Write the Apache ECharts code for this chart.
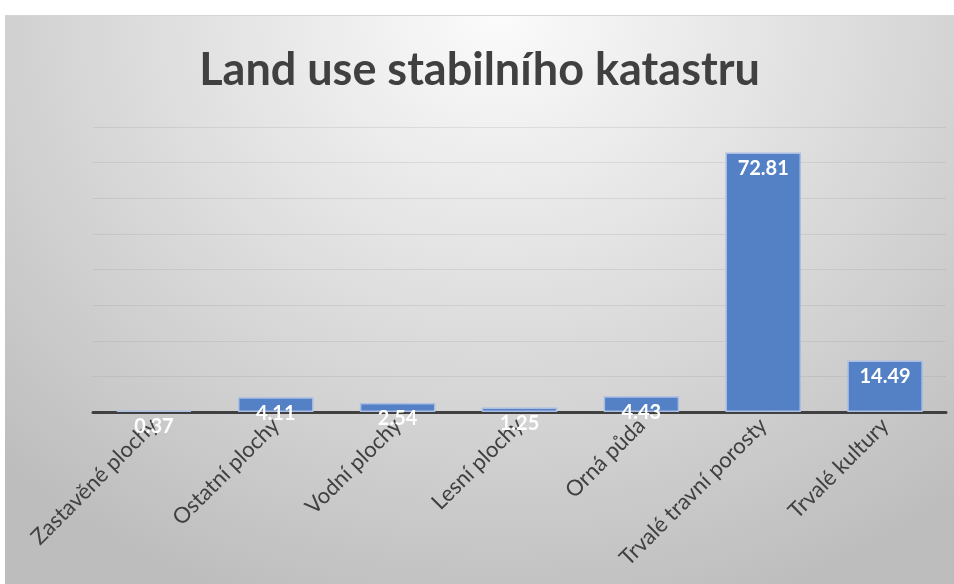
<!DOCTYPE html>
<html>
<head>
<meta charset="utf-8">
<script src="https://cdn.jsdelivr.net/npm/echarts@6/dist/echarts.min.js"></script>
<style>
  html, body { margin: 0; padding: 0; background: #ffffff; }
  #chart {
    position: absolute; left: 5px; top: 15px; width: 949px; height: 569px;
    border-top: 1px solid #d4d4d4;
    background: radial-gradient(ellipse 75% 110% at 52% 0%, #fbfbfb 0%, #e6e6e6 35%, #d0d0d0 70%, #bdbdbd 100%);
  }
</style>
</head>
<body>
<div id="chart"></div>
<script>
// kategorie a hodnoty (%)
var categories = ['Zastavěné plochy', 'Ostatní plochy', 'Vodní plochy', 'Lesní plochy', 'Orná půda', 'Trvalé travní porosty', 'Trvalé kultury'];
var values = [0.37, 4.11, 2.54, 1.25, 4.43, 72.81, 14.49];

var myChart = echarts.init(document.getElementById('chart'));
var option = {
    title: {
        text: 'Land use stabilního katastru',
        left: 'center',
        top: 32,
        padding: [0, 0, 0, 10],
        textStyle: {
            fontFamily: 'Lato',
            fontSize: 45,
            fontWeight: 'bold',
            color: '#404040'
        }
    },
    grid: {
        left: 88,
        right: 8,
        top: 111,
        bottom: 173
    },
    xAxis: {
        type: 'category',
        data: categories,
        axisLine: {
            lineStyle: {
                color: '#404040',
                width: 3
            }
        },
        axisTick: { show: false },
        axisLabel: {
            rotate: 45,
            margin: 10,
            interval: 0,
            fontFamily: 'Lato',
            fontSize: 22,
            color: '#404040'
        }
    },
    yAxis: {
        type: 'value',
        min: 0,
        max: 80,
        interval: 10,
        axisLine: { show: false },
        axisTick: { show: false },
        axisLabel: { show: false },
        splitLine: {
            lineStyle: {
                color: 'rgba(150, 150, 150, 0.22)',
                width: 1
            }
        }
    },
    series: [{
        type: 'bar',
        data: values,
        barWidth: '62%',
        itemStyle: {
            color: '#5480c6',
            borderColor: '#a9bee2',
            borderWidth: 1.5
        },
        label: {
            show: true,
            position: 'insideTop',
            distance: 6,
            fontFamily: 'Lato',
            fontWeight: 'bold',
            fontSize: 20,
            color: '#ffffff'
        },
        z: 3
    }]
};
myChart.setOption(option);
</script>
</body>
</html>
